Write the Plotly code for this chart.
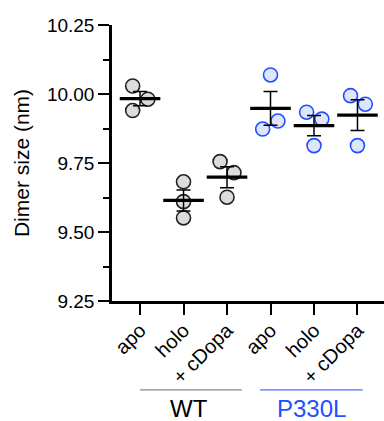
import numpy as np
import plotly.graph_objects as go

categories = ["apo", "holo", "+ cDopa", "apo", "holo", "+ cDopa"]
groups = ["WT", "P330L"]

wt_apo = [10.029, 9.981, 9.940]
wt_holo = [9.682, 9.610, 9.551]
wt_cdopa = [9.755, 9.715, 9.626]
p330l_apo = [10.069, 9.902, 9.873]
p330l_holo = [9.934, 9.909, 9.813]
p330l_cdopa = [9.994, 9.963, 9.813]

series = [wt_apo, wt_holo, wt_cdopa, p330l_apo, p330l_holo, p330l_cdopa]
# horizontal scatter offsets of the dots (layout only)
jitter = [[-0.17, 0.18, -0.17], [0, 0, 0], [-0.16, 0.16, 0],
          [0, 0.17, -0.18], [-0.17, 0.18, 0], [-0.16, 0.18, 0]]

ytick_vals = [9.25, 9.50, 9.75, 10.00, 10.25]
ytick_text = ["9.25", "9.50", "9.75", "10.00", "10.25"]

FONT = "Liberation Sans, Arial, Helvetica, sans-serif"
BLUE = "#1f4fff"
styles = [dict(fill="#dcdcdc", line="#222222")] * 3 + [dict(fill="#dfe5fc", line=BLUE)] * 3

fig = go.Figure()
for i, vals in enumerate(series):
    xs = [i + j for j in jitter[i]]
    fig.add_trace(go.Scatter(
        x=xs, y=vals, mode="markers",
        marker=dict(size=14, color=styles[i]["fill"],
                    line=dict(color=styles[i]["line"], width=1.6)),
        showlegend=False, hoverinfo="y", cliponaxis=False))

means = [float(np.mean(v)) for v in series]
sems = [float(np.std(v, ddof=1) / np.sqrt(len(v))) for v in series]
xpos = list(range(len(categories)))

fig.add_trace(go.Scatter(
    x=xpos, y=means, mode="markers",
    marker=dict(size=0.1, color="rgba(0,0,0,0)"),
    error_y=dict(type="data", array=sems, visible=True, color="black",
                 thickness=1.5, width=7),
    showlegend=False, hoverinfo="skip"))
fig.add_trace(go.Scatter(
    x=xpos, y=means, mode="markers",
    marker=dict(symbol="line-ew", size=29, color="black",
                line=dict(color="black", width=3.2)),
    showlegend=False, hoverinfo="y"))

# group brackets below the axis
group_spans = [(0.0, 2.34, "#8a8a8a", "black", 1.13),
               (2.76, 5.12, "#4a70ff", BLUE, 3.94)]
for (x0, x1, lc, tc, xc), name in zip(group_spans, groups):
    fig.add_shape(type="line", xref="x", yref="paper", x0=x0, x1=x1,
                  y0=-0.322, y1=-0.322, line=dict(color=lc, width=1.3))
    fig.add_annotation(x=xc, y=-0.39, xref="x", yref="paper", text=name,
                       showarrow=False, font=dict(size=24, color=tc, family=FONT),
                       yanchor="middle")

fig.update_layout(
    width=384, height=421,
    margin=dict(l=112, r=0, t=25, b=120, autoexpand=False),
    paper_bgcolor="white", plot_bgcolor="white",
    font=dict(family=FONT, color="black"),
    xaxis=dict(range=[-0.645, 5.61], tickmode="array", tickvals=xpos,
               ticktext=categories, tickangle=-45, automargin=False,
               tickfont=dict(size=20, family=FONT), ticklabelstandoff=-4,
               showline=True, linecolor="black", linewidth=2.5,
               ticks="outside", ticklen=11, tickwidth=2, tickcolor="black",
               showgrid=False, zeroline=False),
    yaxis=dict(range=[9.25, 10.25], tickmode="array", tickvals=ytick_vals,
               ticktext=ytick_text, tickfont=dict(size=19, family=FONT),
               automargin=False,
               showline=True, linecolor="black", linewidth=2.5,
               ticks="outside", ticklen=11, tickwidth=2, tickcolor="black",
               minor=dict(ticks="outside", dtick=0.125, tick0=9.25,
                          ticklen=6, tickwidth=2, tickcolor="black", showgrid=False),
               showgrid=False, zeroline=False,
               title=dict(text="Dimer size (nm)", font=dict(size=21, family=FONT),
                          standoff=12)),
)

fig.write_html("out.html", config={"displayModeBar": False},
               post_script="document.body.style.margin='0';document.body.style.overflow='hidden';")
